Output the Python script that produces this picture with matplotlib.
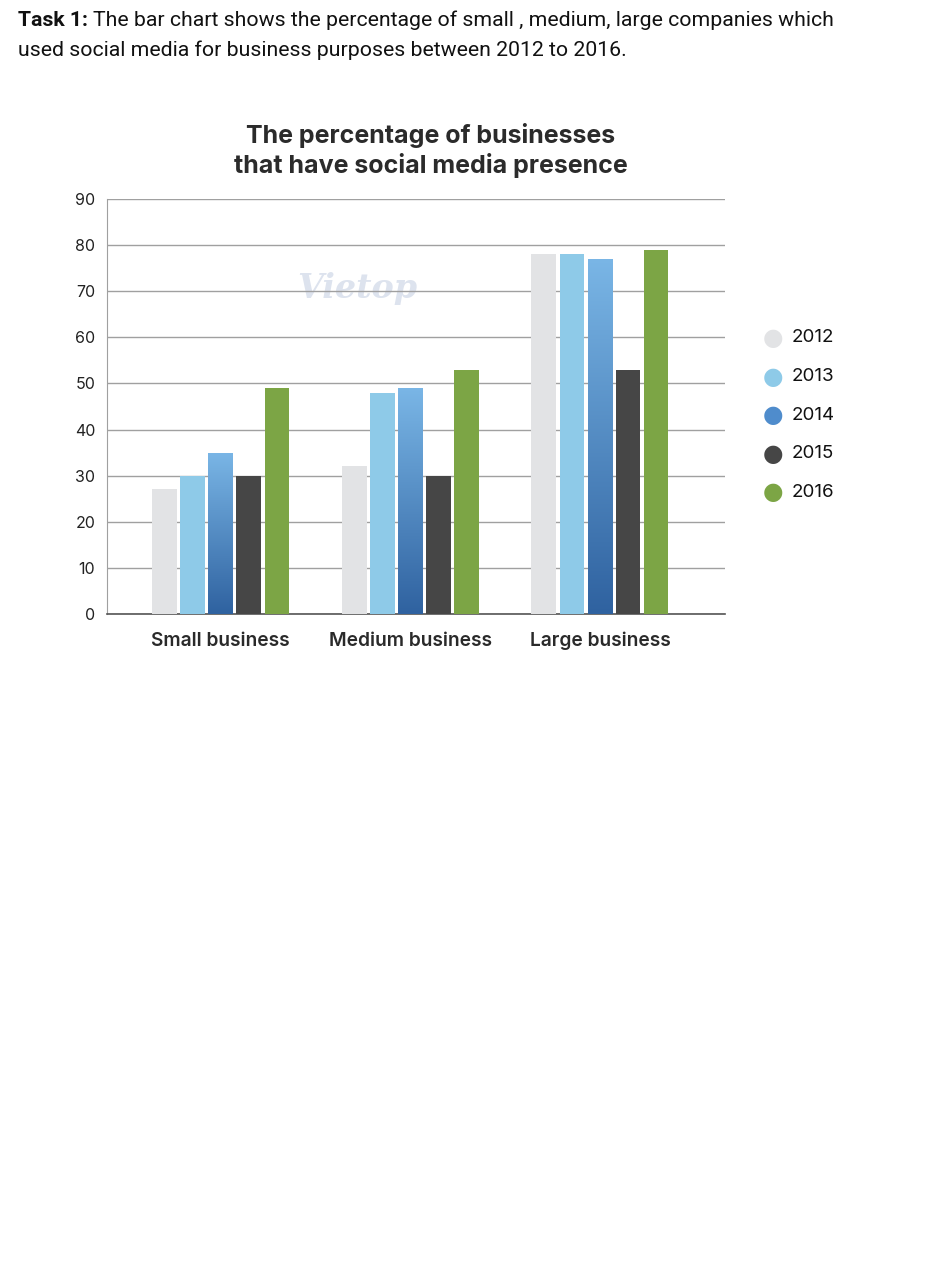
import numpy as np
import matplotlib
matplotlib.use("Agg")
import matplotlib.pyplot as plt
from matplotlib.colors import LinearSegmentedColormap

# data
categories = ["Small business", "Medium business", "Large business"]
years = ["2012", "2013", "2014", "2015", "2016"]
values_2012 = [27, 32, 78]
values_2013 = [30, 48, 78]
values_2014 = [35, 49, 77]
values_2015 = [30, 30, 53]
values_2016 = [49, 53, 79]
yticks = [0, 10, 20, 30, 40, 50, 60, 70, 80, 90]

series = [values_2012, values_2013, values_2014, values_2015, values_2016]
colors = ["#e2e3e5", "#8ecae8", "#4f8ccc", "#464646", "#7ca545"]
grad_2014 = LinearSegmentedColormap.from_list("g2014", ["#2f62a0", "#7ab6e6"])

W, H = 930, 1264
fig = plt.figure(figsize=(W / 100, H / 100), dpi=100)

# header text
hdr = dict(fontsize=15.3, family="Roboto", va="center", ha="left", color="#111111")
fig.text(18 / W, 1 - 20 / H, "Task 1:", fontweight="bold", **hdr)
fig.text(93 / W, 1 - 20 / H,
         "The bar chart shows the percentage of small , medium, large companies which",
         **hdr)
fig.text(18 / W, 1 - 50 / H,
         "used social media for business purposes between 2012 to 2016.", **hdr)

# chart axes
ax_left, ax_right, ax_top, ax_bottom = 107, 725, 199, 614
ax = fig.add_axes([ax_left / W, 1 - ax_bottom / H,
                   (ax_right - ax_left) / W, (ax_bottom - ax_top) / H])

x = np.arange(len(categories))
width = 0.13
step = 0.148
for i, (vals, col) in enumerate(zip(series, colors)):
    offs = (i - 2) * step
    bars = ax.bar(x + offs, vals, width, color=col, zorder=3, label=years[i])
    if i == 2:
        for b in bars:
            bx, by = b.get_x(), b.get_y()
            bw, bh = b.get_width(), b.get_height()
            grad = np.linspace(0, 1, 256).reshape(-1, 1)
            im = ax.imshow(grad, cmap=grad_2014, origin="lower", aspect="auto",
                           extent=[bx, bx + bw, by, by + bh], zorder=4)
            im.set_clip_path(b)

ax.set_xlim(-0.6, 2.66)
ax.set_ylim(0, 90)
ax.set_yticks(yticks)
ax.set_yticklabels([str(t) for t in yticks], family="Inter", fontsize=11.5,
                   color="#222222")
ax.tick_params(axis="y", length=0, pad=8.5)
ax.tick_params(axis="x", length=0, pad=23)
ax.set_xticks(x)
ax.set_xticklabels(categories, family="Inter", fontsize=13.8, fontweight="semibold",
                   color="#2a2a2a", va="baseline")
ax.grid(axis="y", color="#a0a0a0", linewidth=1.0, zorder=0)
for s in ["top", "right"]:
    ax.spines[s].set_visible(False)
ax.spines["left"].set_color("#a0a0a0")
ax.spines["bottom"].set_color("#555555")
ax.spines["bottom"].set_linewidth(1.2)

# faint watermark
ax.text(0.72, 70.5, "Vietop", fontsize=24, fontweight="bold", style="italic",
        color="#dde3ee", ha="center", va="center", zorder=1, family="DejaVu Serif")

# title
ttl = dict(fontsize=18, fontweight="bold", family="Inter", ha="center",
           va="center", color="#2b2b2b")
fig.text(431 / W, 1 - 135 / H, "The percentage of businesses", **ttl)
fig.text(431 / W, 1 - 165 / H, "that have social media presence", **ttl)

# legend as dots + labels
leg_y = [338, 377, 415, 454, 492]
for yr, col, yy in zip(years, colors, leg_y):
    fig.text(773 / W, 1 - yy / H, "\u25CF", fontsize=17, color=col,
             ha="center", va="center", family="DejaVu Sans")
    fig.text(792 / W, 1 - yy / H, yr, fontsize=13.5, family="Inter",
             ha="left", va="center", color="#111111")

fig.savefig("out.png", dpi=100)
